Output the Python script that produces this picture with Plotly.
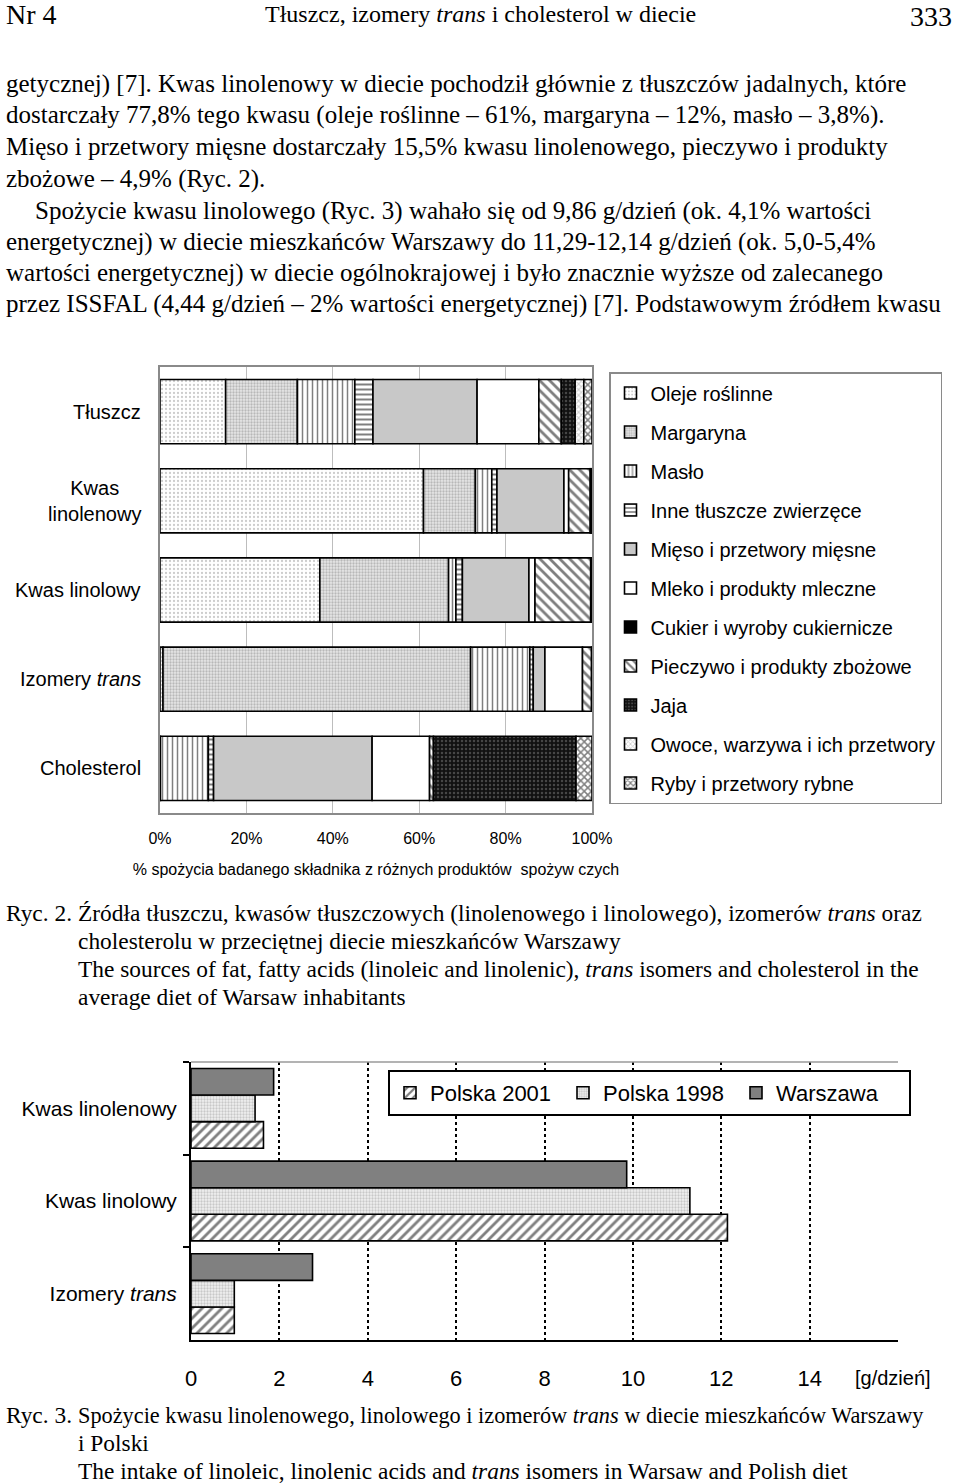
import numpy as np
import plotly.graph_objects as go

W, H = 960, 1483

# ---------------- data: Ryc. 2 (percent shares) ----------------
categories_top = ["Tłuszcz", "Kwas linolenowy", "Kwas linolowy", "Izomery trans", "Cholesterol"]
category_labels_top = ["Tłuszcz", "Kwas<br>linolenowy", "Kwas linolowy", "Izomery <i>trans</i>", "Cholesterol"]

oleje = [15.2, 61.0, 37.0, 0.7, 0.0]
margaryna = [16.6, 12.0, 29.8, 71.2, 0.1]
maslo = [13.3, 3.8, 1.7, 13.7, 11.1]
inne_tluszcze = [4.2, 1.2, 1.5, 0.8, 1.2]
mieso = [24.1, 15.5, 15.4, 2.7, 36.7]
mleko = [14.3, 1.1, 1.4, 8.7, 13.3]
cukier = [0.0, 0.0, 0.0, 0.0, 0.0]
pieczywo = [5.2, 5.0, 12.9, 2.1, 0.9]
jaja = [3.2, 0.2, 0.2, 0.1, 33.0]
owoce = [2.0, 0.1, 0.0, 0.0, 0.0]
ryby = [1.9, 0.1, 0.1, 0.0, 3.7]

series_names = ["Oleje roślinne", "Margaryna", "Masło", "Inne tłuszcze zwierzęce",
                "Mięso i przetwory mięsne", "Mleko i produkty mleczne",
                "Cukier i wyroby cukiernicze", "Pieczywo i produkty zbożowe", "Jaja",
                "Owoce, warzywa i ich przetwory", "Ryby i przetwory rybne"]
series_values = [oleje, margaryna, maslo, inne_tluszcze, mieso, mleko, cukier,
                 pieczywo, jaja, owoce, ryby]

x_ticks_top = [0, 20, 40, 60, 80, 100]
x_ticklabels_top = ["0%", "20%", "40%", "60%", "80%", "100%"]

# ---------------- data: Ryc. 3 (g/day) ----------------
categories_bottom = ["Kwas linolenowy", "Kwas linolowy", "Izomery <i>trans</i>"]
warszawa = [1.87, 9.86, 2.75]
polska_1998 = [1.45, 11.29, 0.98]
polska_2001 = [1.64, 12.14, 0.98]
x_ticks_bottom = [0, 2, 4, 6, 8, 10, 12, 14]

# ---------------- styles ----------------
patterns = [
    dict(shape=".", fgcolor="#9a9a9a", bgcolor="#ffffff", size=4, solidity=0.25),
    dict(shape=".", fgcolor="#8a8a8a", bgcolor="#e6e6e6", size=3, solidity=0.45),
    dict(shape="|", fgcolor="#000000", bgcolor="#ffffff", size=5, solidity=0.3),
    dict(shape="-", fgcolor="#000000", bgcolor="#ffffff", size=5, solidity=0.4),
    dict(shape="", fgcolor="#c8c8c8", bgcolor="#c8c8c8"),
    dict(shape="", fgcolor="#ffffff", bgcolor="#ffffff"),
    dict(shape="", fgcolor="#000000", bgcolor="#000000"),
    dict(shape="\\", fgcolor="#000000", bgcolor="#ffffff", size=7, solidity=0.4),
    dict(shape=".", fgcolor="#7a7a7a", bgcolor="#111111", size=4, solidity=0.3),
    dict(shape="x", fgcolor="#9a9a9a", bgcolor="#ffffff", size=4, solidity=0.45),
    dict(shape="x", fgcolor="#000000", bgcolor="#ffffff", size=5, solidity=0.5),
]
colors = ["#ffffff", "#e6e6e6", "#ffffff", "#ffffff", "#c8c8c8", "#ffffff", "#000000",
          "#ffffff", "#111111", "#ffffff", "#ffffff"]

SANS = "Liberation Sans, Arial, sans-serif"
SERIF = "Liberation Serif, Times New Roman, serif"

fig = go.Figure()

vals = np.array(series_values, dtype=float)
bases = np.vstack([np.zeros(vals.shape[1]), np.cumsum(vals, axis=0)[:-1]])
for i, name in enumerate(series_names):
    xv = [v if v > 0 else None for v in vals[i]]
    fig.add_trace(go.Bar(
        y=categories_top, x=xv, base=bases[i], orientation="h", name=name,
        width=0.72, xaxis="x", yaxis="y",
        marker=dict(color=colors[i], pattern=patterns[i],
                    line=dict(color="#000000", width=1.6)),
        legend="legend", legendgroup=f"g{i}", showlegend=True,
        hoverinfo="skip",
    ))

bw = 0.86 / 3
bottom_series = [
    ("Polska 2001", polska_2001, dict(shape="/", fgcolor="#000000", bgcolor="#ffffff", size=7, solidity=0.4), "#ffffff", bw / 2),
    ("Polska 1998", polska_1998, dict(shape=".", fgcolor="#a0a0a0", bgcolor="#f0f0f0", size=3, solidity=0.45), "#f0f0f0", -bw / 2),
    ("Warszawa", warszawa, dict(shape="", fgcolor="#808080", bgcolor="#808080"), "#808080", -1.5 * bw),
]
for name, v, pat, col, off in bottom_series:
    fig.add_trace(go.Bar(
        y=categories_bottom, x=v, orientation="h", name=name, width=bw, offset=off,
        xaxis="x2", yaxis="y2",
        marker=dict(color=col, pattern=pat, line=dict(color="#000000", width=1.6)),
        legend="legend2", hoverinfo="skip",
    ))

def px_x(p):
    return p / W

def px_y(p):
    return 1 - p / H

fig.update_layout(
    width=W, height=H, margin=dict(l=0, r=0, t=0, b=0, autoexpand=False),
    paper_bgcolor="white", plot_bgcolor="white", barmode="overlay",
    font=dict(family=SANS, color="#000000"),
    xaxis=dict(domain=[px_x(160), px_x(592)], anchor="y", range=[0, 100],
               tickvals=x_ticks_top, ticktext=x_ticklabels_top, ticks="",
               showgrid=True, gridcolor="#bdbdbd", gridwidth=1,
               showline=True, mirror=True, linecolor="#8a8a8a", linewidth=1.5,
               zeroline=False, tickfont=dict(size=16, family=SANS),
               ticklabelstandoff=10, automargin=False,
               title=dict(text="% spożycia badanego składnika z różnych produktów  spożyw czych",
                          font=dict(size=16, family=SANS), standoff=18)),
    yaxis=dict(domain=[px_y(813), px_y(367)], anchor="x", type="category",
               autorange="reversed", showticklabels=False, ticks="",
               showline=True, mirror=True, linecolor="#8a8a8a", linewidth=1.5,
               showgrid=False, zeroline=False, automargin=False),
    xaxis2=dict(domain=[px_x(191), px_x(898)], anchor="y2", range=[0, 16],
                tickvals=x_ticks_bottom, ticks="",
                showgrid=True, griddash="dot", gridcolor="#000000", gridwidth=2,
                showline=True, linecolor="#000000", linewidth=2, zeroline=False,
                tickfont=dict(size=22, family=SANS), ticklabelstandoff=18,
                automargin=False),
    yaxis2=dict(domain=[px_y(1340), px_y(1062)], anchor="x2", type="category",
                autorange="reversed", ticks="outside", tickson="boundaries",
                ticklen=6, tickwidth=2, tickcolor="#000000",
                showline=True, linecolor="#000000", linewidth=2,
                showgrid=False, zeroline=False, automargin=False,
                tickfont=dict(size=21, family=SANS), ticklabelstandoff=8),
    legend=dict(x=px_x(609), y=px_y(372), xanchor="left", yanchor="top",
                bgcolor="white", bordercolor="#8a8a8a", borderwidth=1.5,
                font=dict(size=20, family=SANS), traceorder="grouped",
                tracegroupgap=10, itemwidth=30),
    legend2=dict(x=px_x(388), y=px_y(1070), xanchor="left", yanchor="top",
                 orientation="h", bgcolor="white", bordercolor="#000000",
                 borderwidth=2, font=dict(size=22, family=SANS),
                 entrywidth=128, entrywidthmode="pixels"),
)

# top border line of the Ryc. 3 plot area
fig.add_shape(type="line", xref="x2 domain", yref="y2 domain", x0=0, x1=1, y0=1, y1=1,
              line=dict(color="#9a9a9a", width=1.5))

# category labels for Ryc. 2
for cat, lab in zip(categories_top, category_labels_top):
    fig.add_annotation(x=px_x(143), xref="paper", y=cat, yref="y", text=lab,
                       xanchor="right", yanchor="middle", align="center", showarrow=False,
                       font=dict(size=20, family=SANS))

fig.add_annotation(x=px_x(893), y=px_y(1378), xref="paper", yref="paper", text="[g/dzień]",
                   xanchor="center", yanchor="middle", showarrow=False,
                   font=dict(size=20, family=SANS))

# ---------------- page text ----------------
def text(xp, yp, t, size, anchor="left"):
    fig.add_annotation(x=px_x(xp), y=px_y(yp), xref="paper", yref="paper", text=t,
                       xanchor=anchor, yanchor="middle", showarrow=False, align="left",
                       font=dict(size=size, family=SERIF, color="#000000"))

text(4, 15, "Nr 4", 28)
text(480, 14, "Tłuszcz, izomery <i>trans</i> i cholesterol w diecie", 24, "center")
text(954, 16, "333", 28, "right")

body = [
    (4, 84, "getycznej) [7]. Kwas linolenowy w diecie pochodził głównie z tłuszczów jadalnych, które"),
    (4, 115, "dostarczały 77,8% tego kwasu (oleje roślinne – 61%, margaryna – 12%, masło – 3,8%)."),
    (4, 146, "Mięso i przetwory mięsne dostarczały 15,5% kwasu linolenowego, pieczywo i produkty"),
    (4, 179, "zbożowe – 4,9% (Ryc. 2)."),
    (33, 211, "Spożycie kwasu linolowego (Ryc. 3) wahało się od 9,86 g/dzień (ok. 4,1% wartości"),
    (4, 242, "energetycznej) w diecie mieszkańców Warszawy do 11,29-12,14 g/dzień (ok. 5,0-5,4%"),
    (4, 273, "wartości energetycznej) w diecie ogólnokrajowej i było znacznie wyższe od zalecanego"),
    (4, 304, "przez ISSFAL (4,44 g/dzień – 2% wartości energetycznej) [7]. Podstawowym źródłem kwasu"),
]
for xp, yp, t in body:
    text(xp, yp, t, 25)

CAP = 23.4
text(4, 913, "Ryc. 2.", CAP)
text(76, 913, "Źródła tłuszczu, kwasów tłuszczowych (linolenowego i linolowego), izomerów <i>trans</i> oraz", CAP)
text(76, 941, "cholesterolu w przeciętnej diecie mieszkańców Warszawy", CAP)
text(76, 969, "The sources of fat, fatty acids (linoleic and linolenic), <i>trans</i> isomers and cholesterol in the", CAP)
text(76, 997, "average diet of Warsaw inhabitants", CAP)

text(4, 1415, "Ryc. 3.", CAP)
text(76, 1415, "Spożycie kwasu linolenowego, linolowego i izomerów <i>trans</i> w diecie mieszkańców Warszawy", 22.3)
text(76, 1443, "i Polski", CAP)
text(76, 1471, "The intake of linoleic, linolenic acids and <i>trans</i> isomers in Warsaw and Polish diet", CAP)

fig.write_html("out.html", config={"displayModeBar": False},
               post_script="document.body.style.margin='0';document.body.style.padding='0';"
                           "document.body.style.overflow='hidden';")
